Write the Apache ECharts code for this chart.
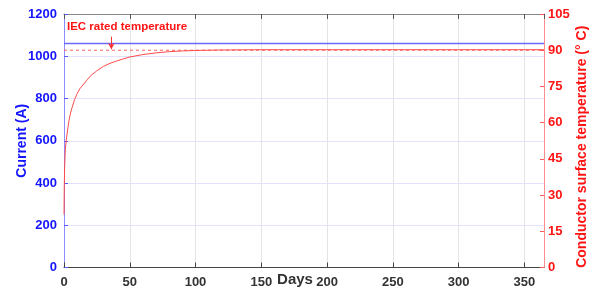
<!DOCTYPE html>
<html><head><meta charset="utf-8">
<script src="https://cdn.jsdelivr.net/npm/echarts@6/dist/echarts.min.js"></script>
<style>html,body{margin:0;padding:0;background:#fff}#c{width:600px;height:296px}</style>
</head><body><div id="c"></div>
<script>
var xTicks = [0, 50, 100, 150, 200, 250, 300, 350];
var currentDays = [0, 365];
var currentValues = [1060, 1060];
var tempDays = [0, 0.2, 0.5, 1, 2, 3, 4, 5, 6, 8, 10, 12, 15, 18, 20, 25, 30, 35, 40, 45, 50, 60, 70, 80, 90, 100, 120, 150, 200, 250, 300, 365];
var tempValues = [22, 33, 42, 49, 54, 58, 61.5, 64, 66, 69.5, 72, 74, 76, 78, 79.3, 81.5, 83.3, 84.6, 85.5, 86.4, 87.2, 88.2, 88.9, 89.4, 89.7, 89.9, 90.1, 90.2, 90.2, 90.2, 90.2, 90.2];
var iecDays = [0, 365];
var iecValues = [90, 90];
var arrowDay = 36;
var annotationText = 'IEC rated temperature';

var chart = echarts.init(document.getElementById('c'));
var font = 'Liberation Sans, Arial, sans-serif';
function pairs(a, b) { return a.map(function (v, i) { return [v, b[i]]; }); }
function plain(v) { return String(v); }

chart.setOption({
  animation: false,
  grid: { left: 64, right: 56, top: 14, bottom: 28.5, containLabel: false, outerBoundsMode: 'none' },
  xAxis: [{
    type: 'value', min: 0, max: 365, interval: 50,
    name: 'Days', nameLocation: 'middle', nameGap: 5, nameMoveOverlap: false,
    nameTextStyle: { color: '#333', fontWeight: 'bold', fontSize: 15, fontFamily: font, verticalAlign: 'top', padding: [0, 18, 0, 0] },
    axisLine: { onZero: false, lineStyle: { color: '#444', width: 1 } },
    axisTick: { inside: true, length: 5, lineStyle: { color: '#444' } },
    axisLabel: { color: '#333', fontWeight: 'bold', fontSize: 13, fontFamily: font, margin: 8, formatter: plain },
    splitLine: { show: true, lineStyle: { color: '#e4e4e4', width: 1 } }
  }, {
    type: 'value', min: 0, max: 365, interval: 50, position: 'top',
    axisLine: { show: true, onZero: false, lineStyle: { color: '#888', width: 1 } },
    axisTick: { inside: true, length: 5, lineStyle: { color: '#555' } },
    axisLabel: { show: false }, splitLine: { show: false }
  }],
  yAxis: [{
    type: 'value', min: 0, max: 1200, interval: 200,
    name: 'Current (A)', nameLocation: 'middle', nameGap: 35, nameMoveOverlap: false,
    nameTextStyle: { color: '#1414ff', fontWeight: 'bold', fontSize: 14, fontFamily: font },
    axisLine: { show: true, onZero: false, lineStyle: { color: '#8c8cff', width: 1 } },
    axisTick: { show: true, inside: true, length: 4, lineStyle: { color: '#5a5aff' } },
    axisLabel: { color: '#1414ff', fontWeight: 'bold', fontSize: 13, fontFamily: font, margin: 7, formatter: plain },
    splitLine: { show: true, lineStyle: { color: '#e2e2ff', width: 1 } }
  }, {
    type: 'value', min: 0, max: 105, interval: 15, position: 'right',
    name: 'Conductor surface temperature (° C)', nameLocation: 'middle', nameGap: 31, nameRotate: 90, nameMoveOverlap: false,
    nameTextStyle: { color: '#ff1414', fontWeight: 'bold', fontSize: 14, fontFamily: font, padding: [0, 12, 0, 0] },
    axisLine: { show: true, onZero: false, lineStyle: { color: '#ff8c8c', width: 1 } },
    axisTick: { show: true, inside: true, length: 4, lineStyle: { color: '#ff5a5a' } },
    axisLabel: { color: '#ff1414', fontWeight: 'bold', fontSize: 13, fontFamily: font, margin: 4, formatter: plain },
    splitLine: { show: false }
  }],
  series: [{
    type: 'line', yAxisIndex: 0, data: pairs(currentDays, currentValues),
    showSymbol: false, lineStyle: { color: '#6a6aff', width: 1.5 }
  }, {
    type: 'line', yAxisIndex: 1, data: pairs(iecDays, iecValues),
    showSymbol: false, lineStyle: { color: '#ff6060', width: 1, type: [3, 3] },
    markLine: {
      silent: true, symbol: ['none', 'arrow'], symbolSize: [5, 6],
      lineStyle: { color: '#ff3030', width: 1, type: 'solid' },
      label: { show: false },
      data: [[{ coord: [arrowDay, 95.6] }, { coord: [arrowDay, 90.4] }]]
    }
  }, {
    type: 'line', yAxisIndex: 1, data: pairs(tempDays, tempValues),
    showSymbol: false, smooth: false, lineStyle: { color: '#ff4a4a', width: 1 }
  }],
  graphic: [{
    type: 'text', left: 67, top: 21,
    style: { text: annotationText, fill: '#ff1414', font: 'bold 11.5px ' + font }
  }]
});
</script></body></html>
